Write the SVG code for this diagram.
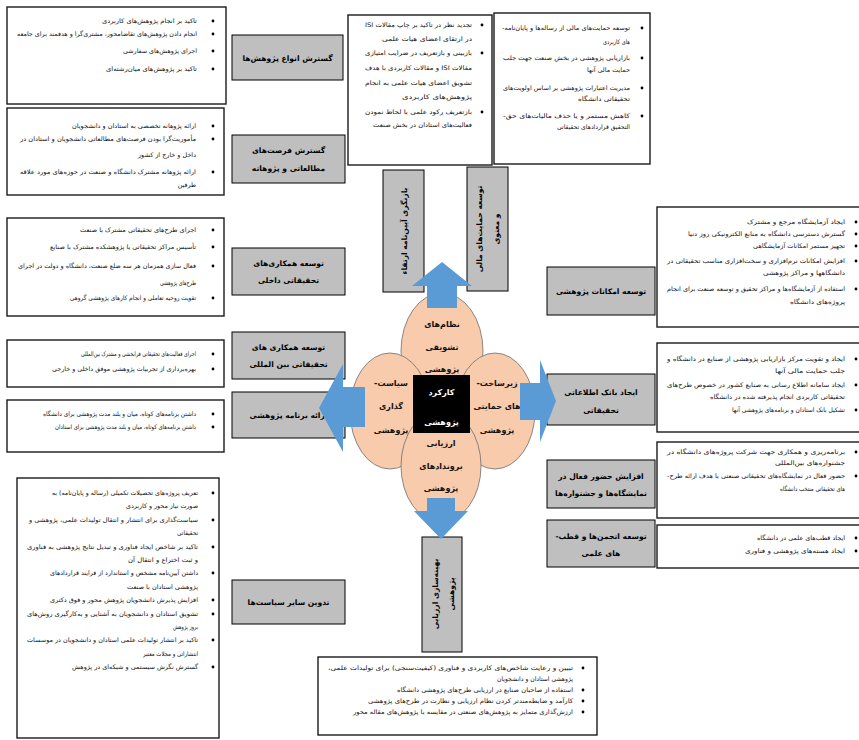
<svg xmlns="http://www.w3.org/2000/svg" width="859" height="740" viewBox="0 0 859 740">
<style>
.box{fill:#fff;stroke:#1a1a1a;stroke-width:1.4}
.lab{fill:#bfbfbf;stroke:#000;stroke-width:1}
.t{font-family:"DejaVu Sans",sans-serif;font-size:6.3px;direction:rtl;fill:#111}
.b{font-family:"DejaVu Sans",sans-serif;font-size:7.6px;font-weight:bold;text-anchor:middle;direction:rtl;fill:#000}
.c{font-family:"DejaVu Sans",sans-serif;font-size:8px;font-weight:bold;text-anchor:middle;direction:rtl;fill:#111}
.w{fill:#fff}
.ell{fill:#F8CBAD;stroke:#6d6d6d;stroke-width:0.8}
.arr{fill:#5B9BD5}
.bu{fill:#000}
</style>
<rect width="859" height="740" fill="#fff"/>

<g id="box-types">
<rect class="box" x="7" y="7" width="219" height="97"/>
<circle class="bu" cx="213" cy="21" r="1.4"/><text class="t" x="197" y="23" textLength="95" lengthAdjust="spacingAndGlyphs">تاکید بر انجام پژوهش‌های کاربردی</text>
<circle class="bu" cx="213" cy="34" r="1.4"/><text class="t" x="197" y="36" textLength="180" lengthAdjust="spacingAndGlyphs">انجام دادن پژوهش‌های تقاضامحور، مشتری‌گرا و هدفمند برای جامعه</text>
<circle class="bu" cx="213" cy="51" r="1.4"/><text class="t" x="197" y="53" textLength="74" lengthAdjust="spacingAndGlyphs">اجرای پژوهش‌های سفارشی</text>
<circle class="bu" cx="213" cy="69" r="1.4"/><text class="t" x="197" y="71" textLength="91" lengthAdjust="spacingAndGlyphs">تاکید بر پژوهش‌های میان‌رشته‌ای</text>
</g>

<g id="box-sabbatical">
<rect class="box" x="7" y="108" width="217" height="87"/>
<circle class="bu" cx="213" cy="126" r="1.4"/><text class="t" x="196" y="128" textLength="124" lengthAdjust="spacingAndGlyphs">ارائه پژوهانه تخصصی به استادان و دانشجویان</text>
<circle class="bu" cx="213" cy="139" r="1.4"/><text class="t" x="196" y="141" textLength="176" lengthAdjust="spacingAndGlyphs">مأموریت‌گرا بودن فرصت‌های مطالعاتی دانشجویان و استادان در</text>
<text class="t" x="196" y="157" textLength="58" lengthAdjust="spacingAndGlyphs">داخل و خارج از کشور</text>
<circle class="bu" cx="213" cy="172" r="1.4"/><text class="t" x="196" y="174" textLength="176" lengthAdjust="spacingAndGlyphs">ارائه پژوهانه مشترک دانشگاه و صنعت در حوزه‌های مورد علاقه</text>
<text class="t" x="196" y="187">طرفین</text>
</g>

<g id="box-domestic">
<rect class="box" x="7" y="218" width="217" height="98"/>
<circle class="bu" cx="213" cy="230" r="1.4"/><text class="t" x="196" y="232" textLength="116" lengthAdjust="spacingAndGlyphs">اجرای طرح‌های تحقیقاتی مشترک با صنعت</text>
<circle class="bu" cx="213" cy="247" r="1.4"/><text class="t" x="196" y="249" textLength="146" lengthAdjust="spacingAndGlyphs">تأسیس مراکز تحقیقاتی یا پژوهشکده مشترک با صنایع</text>
<circle class="bu" cx="213" cy="266" r="1.4"/><text class="t" x="196" y="268" textLength="178" lengthAdjust="spacingAndGlyphs">فعال سازی همزمان هر سه ضلع صنعت، دانشگاه و دولت در اجرای</text>
<text class="t" x="196" y="285" textLength="36" lengthAdjust="spacingAndGlyphs">طرح‌های پژوهشی</text>
<circle class="bu" cx="213" cy="298" r="1.4"/><text class="t" x="196" y="300" textLength="126" lengthAdjust="spacingAndGlyphs">تقویت روحیه تعاملی و انجام کارهای پژوهشی گروهی</text>
</g>

<g id="box-international">
<rect class="box" x="7" y="340" width="217" height="47"/>
<circle class="bu" cx="213" cy="354" r="1.4"/><text class="t" x="196" y="356" textLength="115" lengthAdjust="spacingAndGlyphs">اجرای فعالیت‌های تحقیقاتی فرابخشی و مشترک بین‌المللی</text>
<circle class="bu" cx="213" cy="369" r="1.4"/><text class="t" x="196" y="371" textLength="144" lengthAdjust="spacingAndGlyphs">بهره‌برداری از تجربیات پژوهشی موفق داخلی و خارجی</text>
</g>

<g id="box-program">
<rect class="box" x="7" y="400" width="217" height="52"/>
<circle class="bu" cx="213" cy="414" r="1.4"/><text class="t" x="196" y="416" textLength="153" lengthAdjust="spacingAndGlyphs">داشتن برنامه‌های کوتاه، میان و بلند مدت پژوهشی برای دانشگاه</text>
<circle class="bu" cx="213" cy="427" r="1.4"/><text class="t" x="196" y="429" textLength="141" lengthAdjust="spacingAndGlyphs">داشتن برنامه‌های کوتاه، میان و بلند مدت پژوهشی برای استادان</text>
</g>

<g id="box-policies">
<rect class="box" x="17" y="478" width="202" height="260"/>
<circle class="bu" cx="213" cy="493" r="1.4"/><text class="t" x="198" y="495" textLength="146" lengthAdjust="spacingAndGlyphs">تعریف پروژه‌های تحصیلات تکمیلی (رساله و پایان‌نامه) به</text>
<text class="t" x="198" y="508" textLength="72" lengthAdjust="spacingAndGlyphs">صورت نیاز محور و کاربردی</text>
<circle class="bu" cx="213" cy="520" r="1.4"/><text class="t" x="198" y="522" textLength="169" lengthAdjust="spacingAndGlyphs">سیاست‌گذاری برای انتشار و انتقال تولیدات علمی، پژوهشی و</text>
<text class="t" x="198" y="535" textLength="21" lengthAdjust="spacingAndGlyphs">تحقیقاتی</text>
<circle class="bu" cx="213" cy="547" r="1.4"/><text class="t" x="198" y="549" textLength="171" lengthAdjust="spacingAndGlyphs">تاکید بر شاخص ایجاد فناوری و تبدیل نتایج پژوهشی به فناوری</text>
<text class="t" x="198" y="562" textLength="70" lengthAdjust="spacingAndGlyphs">و ثبت اختراع و انتقال آن</text>
<circle class="bu" cx="213" cy="573" r="1.4"/><text class="t" x="198" y="575" textLength="148" lengthAdjust="spacingAndGlyphs">داشتن آیین‌نامه مشخص و استاندارد از فرایند قراردادهای</text>
<text class="t" x="198" y="589" textLength="71" lengthAdjust="spacingAndGlyphs">پژوهشی استادان با صنعت</text>
<circle class="bu" cx="213" cy="600" r="1.4"/><text class="t" x="198" y="602" textLength="148" lengthAdjust="spacingAndGlyphs">افزایش پذیرش دانشجویان پژوهش محور و فوق دکتری</text>
<circle class="bu" cx="213" cy="614" r="1.4"/><text class="t" x="198" y="616" textLength="171" lengthAdjust="spacingAndGlyphs">تشویق استادان و دانشجویان به آشنایی و به‌کارگیری روش‌های</text>
<text class="t" x="198" y="629" textLength="25" lengthAdjust="spacingAndGlyphs">بروز پژوهش</text>
<circle class="bu" cx="213" cy="640" r="1.4"/><text class="t" x="198" y="642" textLength="171" lengthAdjust="spacingAndGlyphs">تاکید بر انتشار تولیدات علمی استادان و دانشجویان در موسسات</text>
<text class="t" x="198" y="656" textLength="55" lengthAdjust="spacingAndGlyphs">انتشاراتی و مجلات معتبر</text>
<circle class="bu" cx="213" cy="667" r="1.4"/><text class="t" x="198" y="669" textLength="126" lengthAdjust="spacingAndGlyphs">گسترش نگرش سیستمی و شبکه‌ای در پژوهش</text>
</g>

<g id="box-promotion">
<rect class="box" x="348" y="15" width="144" height="150"/>
<circle class="bu" cx="482" cy="25" r="1.4"/><text class="t" x="472" y="27" textLength="107" lengthAdjust="spacingAndGlyphs">تجدید نظر در تاکید بر چاپ مقالات ISI</text>
<text class="t" x="472" y="41" textLength="90" lengthAdjust="spacingAndGlyphs">در ارتقای اعضای هیات علمی</text>
<circle class="bu" cx="482" cy="53" r="1.4"/><text class="t" x="472" y="55" textLength="107" lengthAdjust="spacingAndGlyphs">بازبینی و بازتعریف در ضرایب امتیازی</text>
<text class="t" x="472" y="70" textLength="107" lengthAdjust="spacingAndGlyphs">مقالات ISI و مقالات کاربردی با هدف</text>
<text class="t" x="472" y="85" textLength="107" lengthAdjust="spacingAndGlyphs">تشویق اعضای هیات علمی به انجام</text>
<text class="t" x="472" y="99" textLength="70" lengthAdjust="spacingAndGlyphs">پژوهش‌های کاربردی</text>
<circle class="bu" cx="482" cy="112" r="1.4"/><text class="t" x="472" y="114" textLength="107" lengthAdjust="spacingAndGlyphs">بازتعریف رکود علمی با لحاظ نمودن</text>
<text class="t" x="472" y="127" textLength="99" lengthAdjust="spacingAndGlyphs">فعالیت‌های استادان در بخش صنعت</text>
</g>

<g id="box-financial">
<rect class="box" x="494" y="13" width="156" height="151"/>
<circle class="bu" cx="642" cy="28" r="1.4"/><text class="t" x="630" y="30" textLength="128" lengthAdjust="spacingAndGlyphs">توسعه حمایت‌های مالی از رساله‌ها و پایان‌نامه-</text>
<text class="t" x="630" y="44" textLength="27" lengthAdjust="spacingAndGlyphs">های کاربردی</text>
<circle class="bu" cx="642" cy="58" r="1.4"/><text class="t" x="630" y="60" textLength="127" lengthAdjust="spacingAndGlyphs">بازاریابی پژوهشی در بخش صنعت جهت جلب</text>
<text class="t" x="630" y="72" textLength="43" lengthAdjust="spacingAndGlyphs">حمایت مالی آنها</text>
<circle class="bu" cx="642" cy="88" r="1.4"/><text class="t" x="630" y="90" textLength="127" lengthAdjust="spacingAndGlyphs">مدیریت اعتبارات پژوهشی بر اساس اولویت‌های</text>
<text class="t" x="630" y="101" textLength="52" lengthAdjust="spacingAndGlyphs">تحقیقاتی دانشگاه</text>
<circle class="bu" cx="642" cy="116" r="1.4"/><text class="t" x="630" y="118" textLength="127" lengthAdjust="spacingAndGlyphs">کاهش مستمر و یا حذف مالیات‌های حق-</text>
<text class="t" x="630" y="129" textLength="73" lengthAdjust="spacingAndGlyphs">التحقیق قراردادهای تحقیقاتی</text>
</g>

<g id="box-facilities">
<rect class="box" x="657" y="207" width="210" height="120"/>
<circle class="bu" cx="856" cy="222" r="1.4"/><text class="t" x="845" y="224" textLength="98" lengthAdjust="spacingAndGlyphs">ایجاد آزمایشگاه مرجع و مشترک</text>
<circle class="bu" cx="856" cy="234" r="1.4"/><text class="t" x="845" y="236" textLength="157" lengthAdjust="spacingAndGlyphs">گسترش دسترسی دانشگاه به منابع الکترونیکی روز دنیا</text>
<circle class="bu" cx="856" cy="246" r="1.4"/><text class="t" x="845" y="248" textLength="92" lengthAdjust="spacingAndGlyphs">تجهیز مستمر امکانات آزمایشگاهی</text>
<circle class="bu" cx="856" cy="261" r="1.4"/><text class="t" x="845" y="263" textLength="178" lengthAdjust="spacingAndGlyphs">افزایش امکانات نرم‌افزاری و سخت‌افزاری مناسب تحقیقاتی در</text>
<text class="t" x="845" y="275" textLength="82" lengthAdjust="spacingAndGlyphs">دانشگاهها و مراکز پژوهشی</text>
<circle class="bu" cx="856" cy="289" r="1.4"/><text class="t" x="845" y="291" textLength="178" lengthAdjust="spacingAndGlyphs">استفاده از آزمایشگاه‌ها و مراکز تحقیق و توسعه صنعت برای انجام</text>
<text class="t" x="845" y="304" textLength="55" lengthAdjust="spacingAndGlyphs">پروژه‌های دانشگاه</text>
</g>

<g id="box-database">
<rect class="box" x="657" y="343" width="210" height="89"/>
<circle class="bu" cx="856" cy="359" r="1.4"/><text class="t" x="845" y="361" textLength="178" lengthAdjust="spacingAndGlyphs">ایجاد و تقویت مرکز بازاریابی پژوهشی از صنایع در دانشگاه و</text>
<text class="t" x="845" y="373" textLength="70" lengthAdjust="spacingAndGlyphs">جلب حمایت مالی آنها</text>
<circle class="bu" cx="856" cy="385" r="1.4"/><text class="t" x="845" y="387" textLength="178" lengthAdjust="spacingAndGlyphs">ایجاد سامانه اطلاع رسانی به صنایع کشور در خصوص طرح‌های</text>
<text class="t" x="845" y="399" textLength="135" lengthAdjust="spacingAndGlyphs">تحقیقاتی کاربردی انجام پذیرفته شده در دانشگاه</text>
<circle class="bu" cx="856" cy="410" r="1.4"/><text class="t" x="845" y="412" textLength="113" lengthAdjust="spacingAndGlyphs">تشکیل بانک استادان و برنامه‌های پژوهشی آنها</text>
</g>

<g id="box-exhibitions">
<rect class="box" x="657" y="442" width="210" height="76"/>
<circle class="bu" cx="856" cy="452" r="1.4"/><text class="t" x="845" y="454" textLength="178" lengthAdjust="spacingAndGlyphs">برنامه‌ریزی و همکاری جهت شرکت پروژه‌های دانشگاه در</text>
<text class="t" x="845" y="465" textLength="70" lengthAdjust="spacingAndGlyphs">جشنواره‌های بین‌المللی</text>
<circle class="bu" cx="856" cy="476" r="1.4"/><text class="t" x="845" y="478" textLength="178" lengthAdjust="spacingAndGlyphs">حضور فعال در نمایشگاه‌های تحقیقاتی صنعتی با هدف ارائه طرح-</text>
<text class="t" x="845" y="491" textLength="65" lengthAdjust="spacingAndGlyphs">های تحقیقاتی منتخب دانشگاه</text>
</g>

<g id="box-associations">
<rect class="box" x="657" y="525" width="210" height="43"/>
<circle class="bu" cx="856" cy="538" r="1.4"/><text class="t" x="845" y="540" textLength="88" lengthAdjust="spacingAndGlyphs">ایجاد قطب‌های علمی در دانشگاه</text>
<circle class="bu" cx="856" cy="551" r="1.4"/><text class="t" x="845" y="553" textLength="100" lengthAdjust="spacingAndGlyphs">ایجاد هسته‌های پژوهشی و فناوری</text>
</g>

<g id="box-evaluation">
<rect class="box" x="318" y="657" width="279" height="78"/>
<circle class="bu" cx="583" cy="668" r="1.4"/><text class="t" x="573" y="670" textLength="245" lengthAdjust="spacingAndGlyphs">تبیین و رعایت شاخص‌های کاربردی و فناوری (کیفیت‌سنجی) برای تولیدات علمی،</text>
<text class="t" x="573" y="681" textLength="76" lengthAdjust="spacingAndGlyphs">پژوهشی استادان و دانشجویان</text>
<circle class="bu" cx="583" cy="690" r="1.4"/><text class="t" x="573" y="692" textLength="176" lengthAdjust="spacingAndGlyphs">استفاده از صاحبان صنایع در ارزیابی طرح‌های پژوهشی دانشگاه</text>
<circle class="bu" cx="583" cy="701" r="1.4"/><text class="t" x="573" y="703" textLength="205" lengthAdjust="spacingAndGlyphs">کارآمد و ضابطه‌مندتر کردن نظام ارزیابی و نظارت در طرح‌های پژوهشی</text>
<circle class="bu" cx="583" cy="712" r="1.4"/><text class="t" x="573" y="714" textLength="220" lengthAdjust="spacingAndGlyphs">ارزش‌گذاری متمایز به پژوهش‌های صنعتی در مقایسه با پژوهش‌های مقاله محور</text>
</g>

<g id="lab-types"><rect class="lab" x="232" y="35" width="111" height="45"/><text class="b" x="287.5" y="61">گسترش انواع پژوهش‌ها</text></g>
<g id="lab-sabbatical"><rect class="lab" x="232" y="135" width="113" height="48"/><text class="b" x="288.5" y="153">گسترش فرصت‌های</text><text class="b" x="288.5" y="171">مطالعاتی و پژوهانه</text></g>
<g id="lab-domestic"><rect class="lab" x="232" y="248" width="113" height="47"/><text class="b" x="288.5" y="266">توسعه همکاری‌های</text><text class="b" x="288.5" y="283">تحقیقاتی داخلی</text></g>
<g id="lab-international"><rect class="lab" x="232" y="332" width="113" height="47"/><text class="b" x="288.5" y="350">توسعه همکاری های</text><text class="b" x="288.5" y="367">تحقیقاتی بین المللی</text></g>
<g id="lab-program"><rect class="lab" x="232" y="392" width="113" height="46"/><text class="b" x="288.5" y="418">ارائه برنامه پژوهشی</text></g>
<g id="lab-policies"><rect class="lab" x="232" y="580" width="113" height="44"/><text class="b" x="288.5" y="605">تدوین سایر سیاست‌ها</text></g>

<g id="lab-facilities"><rect class="lab" x="547" y="267" width="108" height="48"/><text class="b" x="601" y="294">توسعه امکانات پژوهشی</text></g>
<g id="lab-database"><rect class="lab" x="547" y="374" width="108" height="51"/><text class="b" x="601" y="395">ایجاد بانک اطلاعاتی</text><text class="b" x="601" y="413">تحقیقاتی</text></g>
<g id="lab-exhibitions"><rect class="lab" x="547" y="460" width="108" height="48"/><text class="b" x="601" y="479">افزایش حضور فعال در</text><text class="b" x="601" y="496">نمایشگاه‌ها و جشنواره‌ها</text></g>
<g id="lab-associations"><rect class="lab" x="547" y="520" width="108" height="47"/><text class="b" x="601" y="539">توسعه انجمن‌ها و قطب-</text><text class="b" x="601" y="556">های علمی</text></g>

<g id="lab-promotion"><rect class="lab" x="383" y="170" width="41" height="122"/><g transform="translate(403.5,231) rotate(-90)"><text class="b" x="0" y="3">بازنگری آیین‌نامه ارتقاء</text></g></g>
<g id="lab-financial"><rect class="lab" x="467" y="167" width="41" height="124"/><g transform="translate(487.5,229) rotate(-90)"><text class="b" x="0" y="-6">توسعه حمایت‌های مالی</text><text class="b" x="0" y="11">و معنوی</text></g></g>
<g id="lab-evaluation"><rect class="lab" x="422" y="537" width="40" height="115"/><g transform="translate(442,594) rotate(-90)"><text class="b" x="0" y="-4">بهینه‌سازی ارزیابی</text><text class="b" x="0" y="12">پژوهشی</text></g></g>

<g id="core">
<ellipse class="ell" cx="442" cy="351" rx="41" ry="58"/>
<ellipse class="ell" cx="390" cy="411" rx="40" ry="58"/>
<ellipse class="ell" cx="495" cy="411" rx="40" ry="58"/>
<ellipse class="ell" cx="441" cy="466" rx="40" ry="56"/>
<text class="c" x="442" y="327">نظام‌های</text><text class="c" x="442" y="350">تشویقی</text><text class="c" x="442" y="372">پژوهشی</text>
<text class="c" x="391" y="386">سیاست-</text><text class="c" x="391" y="409">گذاری</text><text class="c" x="391" y="433">پژوهشی</text>
<text class="c" x="497" y="386">زیرساخت-</text><text class="c" x="497" y="409">های حمایتی</text><text class="c" x="497" y="433">پژوهشی</text>
<text class="c" x="441" y="446">ارزیابی</text><text class="c" x="441" y="469">بروندادهای</text><text class="c" x="441" y="491">پژوهشی</text>
<rect x="413" y="375" width="57" height="58" fill="#000"/>
<text class="c w" x="441.5" y="395">کارکرد</text><text class="c w" x="441.5" y="425">پژوهشی</text>
</g>

<g id="connectors">
<polygon class="arr" points="427,308 427,286 412,286 442,262 472,286 457,286 457,308"/>
<polygon class="arr" points="365,387 343,387 343,364 319,408 343,452 343,427 365,427"/>
<polygon class="arr" points="520,383 540,383 540,360 556,401 540,442 540,420 520,420"/>
<polygon class="arr" points="427,498 455,498 455,511 468,511 441,539 414,511 427,511"/>
</g>
</svg>
